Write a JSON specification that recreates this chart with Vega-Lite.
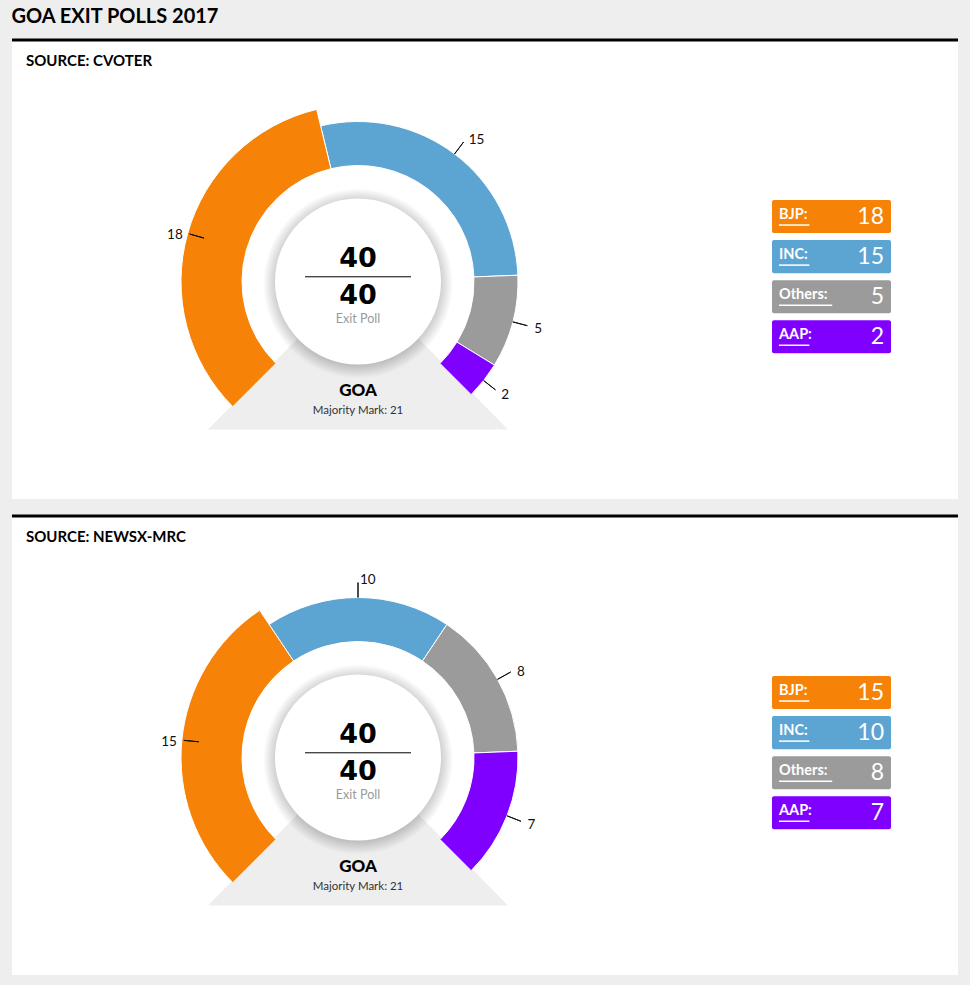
{
  "$schema": "https://vega.github.io/schema/vega-lite/v6.json",
  "background": "#eeeeee",
  "padding": {"left": 10, "top": 7, "right": 11, "bottom": 10},
  "title": {"text": "GOA EXIT POLLS 2017", "anchor": "start", "frame": "bounds", "fontSize": 20, "font": "Lato", "fontWeight": "bold", "color": "#000000", "offset": 11.5, "dx": 1},
  "config": {"view": {"stroke": null}, "font": "Lato"},
  "data": {"values": [
    {"source": "CVOTER", "party": "BJP", "seats": 18},
    {"source": "CVOTER", "party": "INC", "seats": 15},
    {"source": "CVOTER", "party": "Others", "seats": 5},
    {"source": "CVOTER", "party": "AAP", "seats": 2},
    {"source": "NEWSX-MRC", "party": "BJP", "seats": 15},
    {"source": "NEWSX-MRC", "party": "INC", "seats": 10},
    {"source": "NEWSX-MRC", "party": "Others", "seats": 8},
    {"source": "NEWSX-MRC", "party": "AAP", "seats": 7}
  ]},
  "spacing": 15,
  "vconcat": [
    {
      "width": 946, "height": 459,
      "view": {"fill": "#ffffff", "stroke": null},
      "title": {"text": "SOURCE: CVOTER", "anchor": "start", "frame": "group", "offset": -30, "dx": 14, "fontSize": 15, "font": "Lato", "fontWeight": "bold", "color": "#000000"},
      "transform": [{"filter": "datum.source == 'CVOTER'"}],
      "layer": [
        {"transform": [{"aggregate": [{"op": "sum", "field": "seats", "as": "total"}]}],
         "mark": {"type": "rule", "stroke": "#000000", "strokeWidth": 3, "x": 0, "x2": "width"},
         "encoding": {"y": {"value": 0}}},
        {"transform": [{"aggregate": [{"op": "sum", "field": "seats", "as": "total"}]}],
         "mark": {"type": "point", "shape": "M0,-0.03L-1,0.987L1,0.987Z", "size": 90000, "filled": true, "fill": "#eeeeee", "strokeWidth": 0, "opacity": 1},
         "encoding": {"x": {"value": 346}, "y": {"value": 241.5}}},
        {"mark": {"type": "arc", "outerRadius": 160, "innerRadius": 116, "stroke": "#ffffff", "strokeWidth": 1},
         "encoding": {
           "x": {"value": 346}, "y": {"value": 241.5},
           "theta": {"field": "seats", "type": "quantitative", "stack": true, "scale": {"range": [-2.356194, 2.356194], "nice": false, "zero": true}},
           "color": {"field": "party", "type": "nominal", "scale": {"domain": ["BJP", "INC", "Others", "AAP"], "range": ["#f68208", "#5ca5d3", "#9b9b9b", "#8000ff"]}, "legend": null},
           "order": {"field": "seats", "type": "quantitative", "sort": "descending"}}},
        {"transform": [{"joinaggregate": [{"op": "max", "field": "seats", "as": "top"}]}, {"filter": "datum.seats == datum.top"}],
         "mark": {"type": "arc", "outerRadius": 177, "innerRadius": 116, "stroke": "#ffffff", "strokeWidth": 1},
         "encoding": {
           "x": {"value": 346}, "y": {"value": 241.5},
           "theta": {"field": "seats", "type": "quantitative", "stack": true, "scale": {"range": [-2.356194, 2.356194], "nice": false, "zero": true}},
           "color": {"field": "party", "type": "nominal", "scale": {"domain": ["BJP", "INC", "Others", "AAP"], "range": ["#f68208", "#5ca5d3", "#9b9b9b", "#8000ff"]}, "legend": null},
           "order": {"field": "seats", "type": "quantitative", "sort": "descending"}}},
        {"mark": {"type": "arc", "outerRadius": 175, "innerRadius": 160, "padAngle": 3.14, "fill": "transparent", "stroke": "#111111", "strokeWidth": 1},
         "encoding": {
           "x": {"value": 346}, "y": {"value": 241.5},
           "theta": {"field": "seats", "type": "quantitative", "stack": true, "scale": {"range": [-2.356194, 2.356194], "nice": false, "zero": true}},
           "detail": {"field": "party", "type": "nominal"},
           "order": {"field": "seats", "type": "quantitative", "sort": "descending"}}},
        {"transform": [{"joinaggregate": [{"op": "sum", "field": "seats", "as": "total"}]}],
         "mark": {"type": "text", "radius": 180, "font": "Lato", "fontSize": 13.5, "fill": "#111111", "baseline": "middle", "dy": 2,
                  "align": {"expr": "datum.seats_start + datum.seats_end < datum.total ? 'right' : 'left'"},
                  "dx": {"expr": "datum.seats_start + datum.seats_end < datum.total ? -2 : 2"}},
         "encoding": {
           "x": {"value": 346}, "y": {"value": 241.5},
           "theta": {"field": "seats", "type": "quantitative", "stack": true, "scale": {"range": [-2.356194, 2.356194], "nice": false, "zero": true}},
           "detail": {"field": "party", "type": "nominal"},
           "order": {"field": "seats", "type": "quantitative", "sort": "descending"},
           "text": {"field": "seats", "type": "quantitative"}}},
        {"transform": [{"aggregate": [{"op": "sum", "field": "seats", "as": "total"}]}],
         "mark": {"type": "arc", "theta": 0, "theta2": 6.2832, "innerRadius": 0, "outerRadius": 95,
                  "fill": {"gradient": "radial", "x1": 0.5, "y1": 0.5, "x2": 0.5, "y2": 0.5, "r1": 0, "r2": 0.5,
                           "stops": [{"offset": 0, "color": "rgba(0,0,0,0.25)"}, {"offset": 0.86, "color": "rgba(0,0,0,0.2)"}, {"offset": 1, "color": "rgba(0,0,0,0)"}]}},
         "encoding": {"x": {"value": 346}, "y": {"value": 243.5}}},
        {"transform": [{"aggregate": [{"op": "sum", "field": "seats", "as": "total"}]}],
         "mark": {"type": "arc", "theta": 0, "theta2": 6.2832, "innerRadius": 0, "outerRadius": 83, "fill": "#ffffff"},
         "encoding": {"x": {"value": 346}, "y": {"value": 241.5}}},
        {"transform": [{"aggregate": [{"op": "sum", "field": "seats", "as": "total"}]}],
         "mark": {"type": "text", "dy": -23, "fontSize": 27, "font": "DejaVu Sans", "fontWeight": "bold", "fill": "#000000", "baseline": "middle", "align": "center"},
         "encoding": {"x": {"value": 346}, "y": {"value": 241.5}, "text": {"field": "total", "type": "quantitative"}}},
        {"transform": [{"aggregate": [{"op": "sum", "field": "seats", "as": "total"}]}],
         "mark": {"type": "point", "shape": "M-1,-0.089L1,-0.089", "size": 11236, "filled": false, "stroke": "#000000", "strokeWidth": 1, "opacity": 1},
         "encoding": {"x": {"value": 346}, "y": {"value": 241.5}}},
        {"transform": [{"aggregate": [{"op": "sum", "field": "seats", "as": "total"}]}],
         "mark": {"type": "text", "dy": 14, "fontSize": 27, "font": "DejaVu Sans", "fontWeight": "bold", "fill": "#000000", "baseline": "middle", "align": "center"},
         "encoding": {"x": {"value": 346}, "y": {"value": 241.5}, "text": {"field": "total", "type": "quantitative"}}},
        {"transform": [{"aggregate": [{"op": "sum", "field": "seats", "as": "total"}]}],
         "mark": {"type": "text", "text": "Exit Poll", "dy": 37, "fontSize": 12.5, "font": "Lato", "fill": "#999999", "baseline": "middle", "align": "center"},
         "encoding": {"x": {"value": 346}, "y": {"value": 241.5}}},
        {"transform": [{"aggregate": [{"op": "sum", "field": "seats", "as": "total"}]}],
         "mark": {"type": "text", "text": "GOA", "dy": 109, "fontSize": 17, "font": "Lato", "fontWeight": 900, "fill": "#000000", "baseline": "middle", "align": "center"},
         "encoding": {"x": {"value": 346}, "y": {"value": 241.5}}},
        {"transform": [{"aggregate": [{"op": "sum", "field": "seats", "as": "total"}]}],
         "mark": {"type": "text", "text": "Majority Mark: 21", "dy": 129, "fontSize": 11.5, "font": "Lato", "fill": "#333333", "baseline": "middle", "align": "center"},
         "encoding": {"x": {"value": 346}, "y": {"value": 241.5}}},
        {"mark": {"type": "rect", "cornerRadius": 2},
         "encoding": {
           "x": {"value": 760}, "x2": {"value": 879},
           "y": {"field": "party", "type": "nominal", "sort": {"field": "seats", "op": "sum", "order": "descending"}, "scale": {"type": "band", "range": [160, 313.3], "paddingInner": 0.175, "paddingOuter": 0}, "axis": null},
           "color": {"field": "party", "type": "nominal", "scale": {"domain": ["BJP", "INC", "Others", "AAP"], "range": ["#f68208", "#5ca5d3", "#9b9b9b", "#8000ff"]}, "legend": null}}},
        {"mark": {"type": "text", "text": {"expr": "datum.party + ':'"}, "align": "left", "baseline": "middle", "dy": -2, "fontSize": 14.5, "font": "Lato", "fontWeight": "bold", "fill": "#ffffff"},
         "encoding": {
           "x": {"value": 767},
           "y": {"field": "party", "type": "nominal", "sort": {"field": "seats", "op": "sum", "order": "descending"}, "scale": {"type": "band", "range": [160, 313.3], "paddingInner": 0.175, "paddingOuter": 0}, "axis": null}}},
        {"mark": {"type": "rule", "stroke": "#ffffff", "strokeWidth": 1.5, "yOffset": 8.5, "x": 767, "x2": {"expr": "767 + 7.6 * length(datum.party + ':')"}},
         "encoding": {
           "y": {"field": "party", "type": "nominal", "sort": {"field": "seats", "op": "sum", "order": "descending"}, "scale": {"type": "band", "range": [160, 313.3], "paddingInner": 0.175, "paddingOuter": 0}, "axis": null}}},
        {"mark": {"type": "text", "align": "right", "baseline": "middle", "fontSize": 23, "font": "Lato", "fontWeight": "normal", "fill": "#ffffff"},
         "encoding": {
           "x": {"value": 872},
           "y": {"field": "party", "type": "nominal", "sort": {"field": "seats", "op": "sum", "order": "descending"}, "scale": {"type": "band", "range": [160, 313.3], "paddingInner": 0.175, "paddingOuter": 0}, "axis": null},
           "text": {"field": "seats", "type": "quantitative"}}}
      ]
    },
    {
      "width": 946, "height": 459,
      "view": {"fill": "#ffffff", "stroke": null},
      "title": {"text": "SOURCE: NEWSX-MRC", "anchor": "start", "frame": "group", "offset": -30, "dx": 14, "fontSize": 15, "font": "Lato", "fontWeight": "bold", "color": "#000000"},
      "transform": [{"filter": "datum.source == 'NEWSX-MRC'"}],
      "layer": [
        {"transform": [{"aggregate": [{"op": "sum", "field": "seats", "as": "total"}]}],
         "mark": {"type": "rule", "stroke": "#000000", "strokeWidth": 3, "x": 0, "x2": "width"},
         "encoding": {"y": {"value": 0}}},
        {"transform": [{"aggregate": [{"op": "sum", "field": "seats", "as": "total"}]}],
         "mark": {"type": "point", "shape": "M0,-0.03L-1,0.987L1,0.987Z", "size": 90000, "filled": true, "fill": "#eeeeee", "strokeWidth": 0, "opacity": 1},
         "encoding": {"x": {"value": 346}, "y": {"value": 241.5}}},
        {"mark": {"type": "arc", "outerRadius": 160, "innerRadius": 116, "stroke": "#ffffff", "strokeWidth": 1},
         "encoding": {
           "x": {"value": 346}, "y": {"value": 241.5},
           "theta": {"field": "seats", "type": "quantitative", "stack": true, "scale": {"range": [-2.356194, 2.356194], "nice": false, "zero": true}},
           "color": {"field": "party", "type": "nominal", "scale": {"domain": ["BJP", "INC", "Others", "AAP"], "range": ["#f68208", "#5ca5d3", "#9b9b9b", "#8000ff"]}, "legend": null},
           "order": {"field": "seats", "type": "quantitative", "sort": "descending"}}},
        {"transform": [{"joinaggregate": [{"op": "max", "field": "seats", "as": "top"}]}, {"filter": "datum.seats == datum.top"}],
         "mark": {"type": "arc", "outerRadius": 177, "innerRadius": 116, "stroke": "#ffffff", "strokeWidth": 1},
         "encoding": {
           "x": {"value": 346}, "y": {"value": 241.5},
           "theta": {"field": "seats", "type": "quantitative", "stack": true, "scale": {"range": [-2.356194, 2.356194], "nice": false, "zero": true}},
           "color": {"field": "party", "type": "nominal", "scale": {"domain": ["BJP", "INC", "Others", "AAP"], "range": ["#f68208", "#5ca5d3", "#9b9b9b", "#8000ff"]}, "legend": null},
           "order": {"field": "seats", "type": "quantitative", "sort": "descending"}}},
        {"mark": {"type": "arc", "outerRadius": 175, "innerRadius": 160, "padAngle": 3.14, "fill": "transparent", "stroke": "#111111", "strokeWidth": 1},
         "encoding": {
           "x": {"value": 346}, "y": {"value": 241.5},
           "theta": {"field": "seats", "type": "quantitative", "stack": true, "scale": {"range": [-2.356194, 2.356194], "nice": false, "zero": true}},
           "detail": {"field": "party", "type": "nominal"},
           "order": {"field": "seats", "type": "quantitative", "sort": "descending"}}},
        {"transform": [{"joinaggregate": [{"op": "sum", "field": "seats", "as": "total"}]}],
         "mark": {"type": "text", "radius": 180, "font": "Lato", "fontSize": 13.5, "fill": "#111111", "baseline": "middle", "dy": 2,
                  "align": {"expr": "datum.seats_start + datum.seats_end < datum.total ? 'right' : 'left'"},
                  "dx": {"expr": "datum.seats_start + datum.seats_end < datum.total ? -2 : 2"}},
         "encoding": {
           "x": {"value": 346}, "y": {"value": 241.5},
           "theta": {"field": "seats", "type": "quantitative", "stack": true, "scale": {"range": [-2.356194, 2.356194], "nice": false, "zero": true}},
           "detail": {"field": "party", "type": "nominal"},
           "order": {"field": "seats", "type": "quantitative", "sort": "descending"},
           "text": {"field": "seats", "type": "quantitative"}}},
        {"transform": [{"aggregate": [{"op": "sum", "field": "seats", "as": "total"}]}],
         "mark": {"type": "arc", "theta": 0, "theta2": 6.2832, "innerRadius": 0, "outerRadius": 95,
                  "fill": {"gradient": "radial", "x1": 0.5, "y1": 0.5, "x2": 0.5, "y2": 0.5, "r1": 0, "r2": 0.5,
                           "stops": [{"offset": 0, "color": "rgba(0,0,0,0.25)"}, {"offset": 0.86, "color": "rgba(0,0,0,0.2)"}, {"offset": 1, "color": "rgba(0,0,0,0)"}]}},
         "encoding": {"x": {"value": 346}, "y": {"value": 243.5}}},
        {"transform": [{"aggregate": [{"op": "sum", "field": "seats", "as": "total"}]}],
         "mark": {"type": "arc", "theta": 0, "theta2": 6.2832, "innerRadius": 0, "outerRadius": 83, "fill": "#ffffff"},
         "encoding": {"x": {"value": 346}, "y": {"value": 241.5}}},
        {"transform": [{"aggregate": [{"op": "sum", "field": "seats", "as": "total"}]}],
         "mark": {"type": "text", "dy": -23, "fontSize": 27, "font": "DejaVu Sans", "fontWeight": "bold", "fill": "#000000", "baseline": "middle", "align": "center"},
         "encoding": {"x": {"value": 346}, "y": {"value": 241.5}, "text": {"field": "total", "type": "quantitative"}}},
        {"transform": [{"aggregate": [{"op": "sum", "field": "seats", "as": "total"}]}],
         "mark": {"type": "point", "shape": "M-1,-0.089L1,-0.089", "size": 11236, "filled": false, "stroke": "#000000", "strokeWidth": 1, "opacity": 1},
         "encoding": {"x": {"value": 346}, "y": {"value": 241.5}}},
        {"transform": [{"aggregate": [{"op": "sum", "field": "seats", "as": "total"}]}],
         "mark": {"type": "text", "dy": 14, "fontSize": 27, "font": "DejaVu Sans", "fontWeight": "bold", "fill": "#000000", "baseline": "middle", "align": "center"},
         "encoding": {"x": {"value": 346}, "y": {"value": 241.5}, "text": {"field": "total", "type": "quantitative"}}},
        {"transform": [{"aggregate": [{"op": "sum", "field": "seats", "as": "total"}]}],
         "mark": {"type": "text", "text": "Exit Poll", "dy": 37, "fontSize": 12.5, "font": "Lato", "fill": "#999999", "baseline": "middle", "align": "center"},
         "encoding": {"x": {"value": 346}, "y": {"value": 241.5}}},
        {"transform": [{"aggregate": [{"op": "sum", "field": "seats", "as": "total"}]}],
         "mark": {"type": "text", "text": "GOA", "dy": 109, "fontSize": 17, "font": "Lato", "fontWeight": 900, "fill": "#000000", "baseline": "middle", "align": "center"},
         "encoding": {"x": {"value": 346}, "y": {"value": 241.5}}},
        {"transform": [{"aggregate": [{"op": "sum", "field": "seats", "as": "total"}]}],
         "mark": {"type": "text", "text": "Majority Mark: 21", "dy": 129, "fontSize": 11.5, "font": "Lato", "fill": "#333333", "baseline": "middle", "align": "center"},
         "encoding": {"x": {"value": 346}, "y": {"value": 241.5}}},
        {"mark": {"type": "rect", "cornerRadius": 2},
         "encoding": {
           "x": {"value": 760}, "x2": {"value": 879},
           "y": {"field": "party", "type": "nominal", "sort": {"field": "seats", "op": "sum", "order": "descending"}, "scale": {"type": "band", "range": [160, 313.3], "paddingInner": 0.175, "paddingOuter": 0}, "axis": null},
           "color": {"field": "party", "type": "nominal", "scale": {"domain": ["BJP", "INC", "Others", "AAP"], "range": ["#f68208", "#5ca5d3", "#9b9b9b", "#8000ff"]}, "legend": null}}},
        {"mark": {"type": "text", "text": {"expr": "datum.party + ':'"}, "align": "left", "baseline": "middle", "dy": -2, "fontSize": 14.5, "font": "Lato", "fontWeight": "bold", "fill": "#ffffff"},
         "encoding": {
           "x": {"value": 767},
           "y": {"field": "party", "type": "nominal", "sort": {"field": "seats", "op": "sum", "order": "descending"}, "scale": {"type": "band", "range": [160, 313.3], "paddingInner": 0.175, "paddingOuter": 0}, "axis": null}}},
        {"mark": {"type": "rule", "stroke": "#ffffff", "strokeWidth": 1.5, "yOffset": 8.5, "x": 767, "x2": {"expr": "767 + 7.6 * length(datum.party + ':')"}},
         "encoding": {
           "y": {"field": "party", "type": "nominal", "sort": {"field": "seats", "op": "sum", "order": "descending"}, "scale": {"type": "band", "range": [160, 313.3], "paddingInner": 0.175, "paddingOuter": 0}, "axis": null}}},
        {"mark": {"type": "text", "align": "right", "baseline": "middle", "fontSize": 23, "font": "Lato", "fontWeight": "normal", "fill": "#ffffff"},
         "encoding": {
           "x": {"value": 872},
           "y": {"field": "party", "type": "nominal", "sort": {"field": "seats", "op": "sum", "order": "descending"}, "scale": {"type": "band", "range": [160, 313.3], "paddingInner": 0.175, "paddingOuter": 0}, "axis": null},
           "text": {"field": "seats", "type": "quantitative"}}}
      ]
    }
  ]
}
